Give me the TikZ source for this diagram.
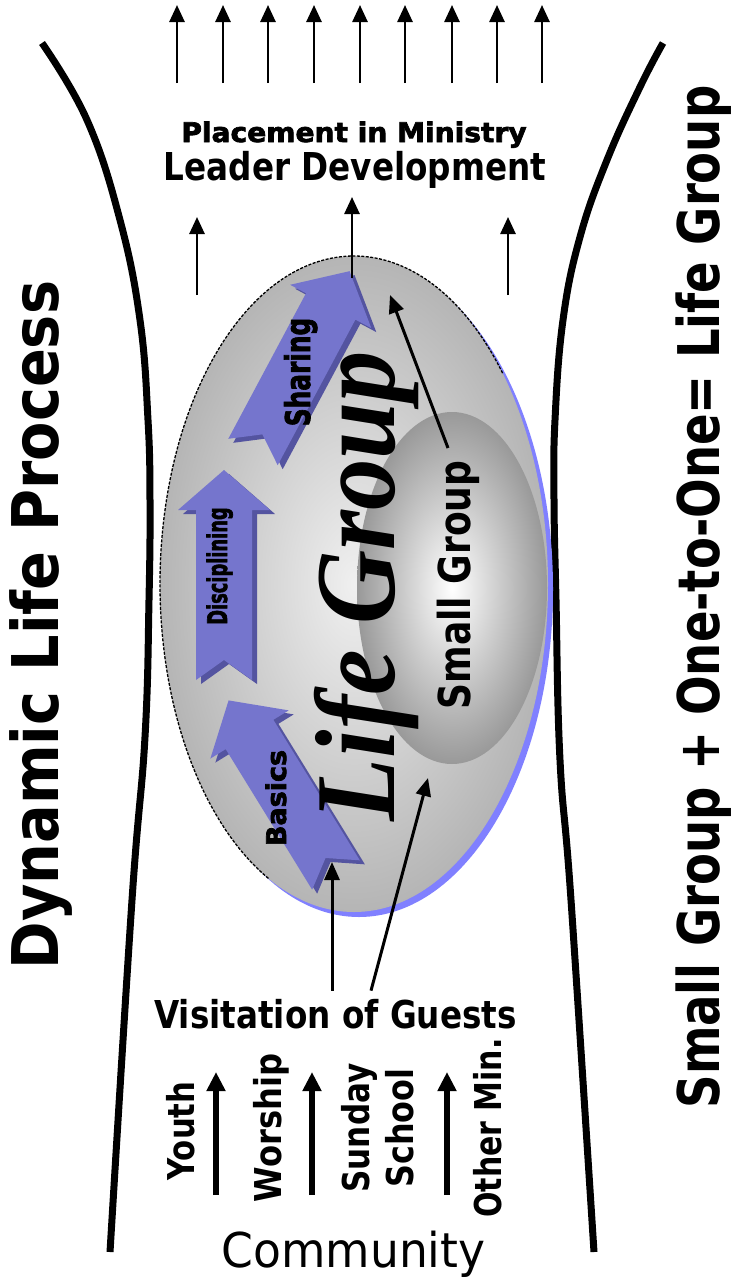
\documentclass[tikz,border=0pt]{standalone}
\usepackage{fontspec}
\usepackage{graphicx}
\setmainfont{DejaVu Sans}
\newfontfamily\lifeserif{Liberation Serif}
\newfontfamily\heavyfont[FakeBold=2.5]{DejaVu Sans Bold}
\usetikzlibrary{arrows.meta}
\definecolor{arrface}{RGB}{117,117,205}
\definecolor{arrside}{RGB}{84,84,160}
\definecolor{shadowblue}{RGB}{128,128,255}
\newcommand{\fsz}[1]{\fontsize{#1}{#1}\selectfont}
\newcommand{\sx}[2]{\scalebox{#1}[1]{#2}}
\newcommand{\bluearrow}[4]{%
  \begin{scope}[shift={(#1+5,#2-4)},rotate=#3]
    \fill[arrside] (0,28) -- (20,0) -- (0,-28) -- (#4-40,-28) -- (#4-40,-46) -- (#4,0) -- (#4-40,46) -- (#4-40,28) -- cycle;
  \end{scope}
  \begin{scope}[shift={(#1,#2)},rotate=#3]
    \fill[arrface] (0,28) -- (20,0) -- (0,-28) -- (#4-40,-28) -- (#4-40,-46) -- (#4,0) -- (#4-40,46) -- (#4-40,28) -- cycle;
  \end{scope}}
\begin{document}
\begin{tikzpicture}[x=1pt,y=1pt,
  toparr/.style={line width=2.6pt, -{Triangle[width=15pt,length=17pt]}},
  medarr/.style={line width=3pt, -{Triangle[width=15pt,length=18pt]}},
  thickarr/.style={line width=5.5pt, -{Triangle[width=18pt,length=19pt]}},
  funnel/.style={line width=7pt},
  lbl/.style={inner sep=0pt, anchor=base},
  vlbl/.style={inner sep=0pt, anchor=base, rotate=90},
]
\useasboundingbox (0,0) rectangle (733,-1285);

% funnel sides
\draw[funnel] plot[smooth, tension=0.7] coordinates {(42,-43) (87,-120) (120,-220) (140,-320) (148,-420) (150,-500) (149,-600) (145,-737) (132,-900) (110,-1252)};
\draw[funnel] plot[smooth, tension=0.7] coordinates {(663,-43) (640,-87) (607,-160) (580,-237) (563,-320) (555,-420) (554,-500) (556,-600) (560,-760) (571,-900) (594,-1252)};

% big ellipse (Life Group)
\fill[shadowblue] (359,-589) ellipse [x radius=194, y radius=328];
\shade[inner color=black!6, outer color=black!29] (354,-584) ellipse [x radius=194, y radius=328];
\draw[line width=1.3pt, dash pattern=on 3pt off 1.5pt] ([shift={(354,-584)}]40:194 and 328) arc [start angle=40, end angle=244, x radius=194, y radius=328];

% small ellipse (Small Group)
\shade[inner color=white, outer color=black!40] (452,-588) ellipse [x radius=95, y radius=176];

% blue process arrows
\bluearrow{253}{-452}{61.9}{205}
\bluearrow{224}{-680}{90}{210}
\bluearrow{336}{-875}{121.6}{205}

\node[vlbl, font=\heavyfont\fsz{34}] (sharing) at (310,-372) {\sx{0.73}{Sharing}};
\node[vlbl, font=\heavyfont\fsz{27}] (disc) at (227,-566) {\sx{0.66}{Disciplining}};
\node[vlbl, font=\heavyfont\fsz{27}] (basics) at (286,-798) {\sx{1.0}{Basics}};

% big labels
\node[vlbl, font=\lifeserif\bfseries\itshape\fsz{114}] (lg) at (394,-586) {\sx{0.9}{Life Group}};
\node[vlbl, font=\bfseries\fsz{44}] (sg) at (470,-585) {\sx{0.82}{Small Group}};

\node[vlbl, font=\bfseries\fsz{64.4}] (dlp) at (58,-625) {\sx{0.89}{Dynamic Life Process}};
\node[vlbl, font=\bfseries\fsz{57.5}] (eq) at (719,-597) {\sx{0.81}{Small Group + One-to-One= Life Group}};

\node[lbl, font=\heavyfont\fsz{27}] (place) at (354,-142) {\sx{1.04}{Placement in Ministry}};
\node[lbl, font=\bfseries\fsz{38.4}] (lead) at (355,-180) {\sx{0.85}{Leader Development}};
\node[lbl, font=\bfseries\fsz{38.4}] (visit) at (335.5,-1028) {\sx{0.85}{Visitation of Guests}};
\node[lbl, font=\fsz{48}] (comm) at (353.5,-1267) {\sx{0.95}{Community}};

\node[vlbl, font=\bfseries\fsz{37}] (youth) at (194,-1131) {\sx{0.83}{Youth}};
\node[vlbl, font=\bfseries\fsz{37}] (worship) at (281,-1128) {\sx{0.87}{Worship}};
\node[vlbl, font=\bfseries\fsz{37}] (sunday) at (369,-1128) {\sx{0.84}{Sunday}};
\node[vlbl, font=\bfseries\fsz{37}] (school) at (413,-1128) {\sx{0.86}{School}};
\node[vlbl, font=\bfseries\fsz{37}] (other) at (501,-1128) {\sx{0.81}{Other Min.}};

% top arrows
\foreach \i/\x in {1/177,2/223,3/268,4/314,5/360,6/405,7/452,8/497,9/542}{
  \coordinate (tb\i) at (\x,-83);
  \coordinate (tt\i) at (\x,-5);
  \draw[toparr] (tb\i) -- (tt\i);
}
% middle arrows
\coordinate (mlb) at (197,-295); \coordinate (mlt) at (197,-217);
\coordinate (mrb) at (508,-295); \coordinate (mrt) at (508,-217);
\coordinate (mcb) at (352,-278); \coordinate (mct) at (352,-197);
\draw[toparr] (mlb) -- (mlt);
\draw[toparr] (mrb) -- (mrt);
\draw[toparr] (mcb) -- (mct);

% small group to top
\coordinate (sgfoot) at (448,-448);
\coordinate (sgtip) at (390,-295);
\draw[medarr] (sgfoot) -- (sgtip);

% visitation arrows
\coordinate (v1tip) at (332,-862);
\coordinate (v2tip) at (428,-778);
\draw[medarr] ([xshift=-3.5pt,yshift=8pt]visit.north) -- (v1tip);
\draw[medarr] ([xshift=35.5pt,yshift=8pt]visit.north) -- (v2tip);

% ministry arrows
\foreach \i/\x in {1/216,2/312,3/447}{
  \coordinate (bb\i) at (\x,-1195);
  \coordinate (bt\i) at (\x,-1072);
  \draw[thickarr] (bb\i) -- (bt\i);
}
\end{tikzpicture}
\end{document}
